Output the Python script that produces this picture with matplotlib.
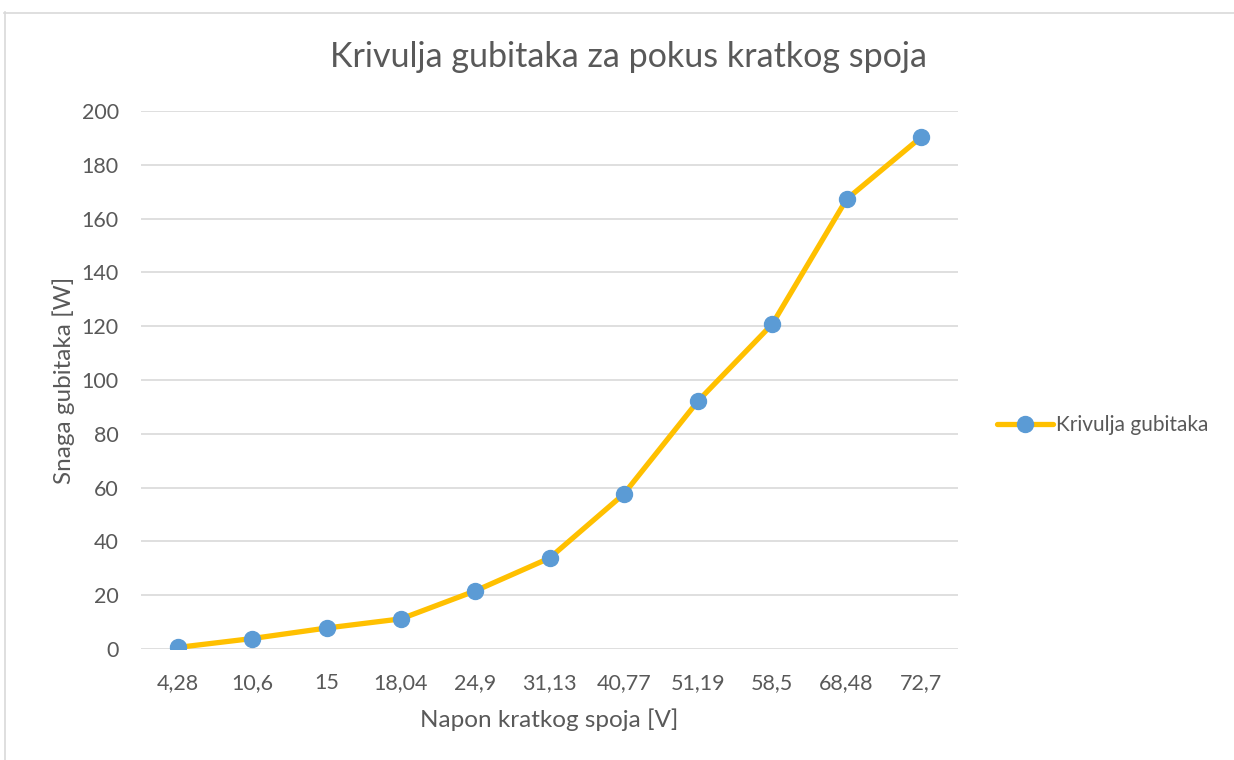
import matplotlib
matplotlib.use("Agg")
import matplotlib.pyplot as plt
from matplotlib.lines import Line2D

categories = ["4,28", "10,6", "15", "18,04", "24,9", "31,13", "40,77", "51,19", "58,5", "68,48", "72,7"]
losses = [0.6, 3.9, 7.8, 11.2, 21.6, 33.8, 57.6, 92.2, 120.8, 167.2, 190.2]
yticks = [0, 20, 40, 60, 80, 100, 120, 140, 160, 180, 200]

plt.rcParams['font.family'] = ['Lato', 'DejaVu Sans']
text_color = '#595959'
W, H = 1234, 760
fig = plt.figure(figsize=(W / 100, H / 100), dpi=100)
fig.patch.set_facecolor('white')

ax = fig.add_axes([141 / W, 1 - 649 / H, (958 - 141) / W, (649 - 111) / H])
x = list(range(len(categories)))
ax.plot(x, losses, color='#FFC000', linewidth=3.8, marker='o', markersize=11.5,
        markerfacecolor='#5B9BD5', markeredgecolor='#5B9BD5', label='Krivulja gubitaka',
        solid_capstyle='round', zorder=3)
ax.set_xlim(-0.5, len(categories) - 0.5)
ax.set_ylim(0, 200)
ax.set_yticks(yticks)
ax.set_xticks(x)
ax.set_xticklabels(categories)
ax.yaxis.grid(True, color='#D9D9D9', linewidth=1.2)
ax.set_axisbelow(True)
for s in ax.spines.values():
    s.set_visible(False)
ax.tick_params(axis='both', length=0, labelsize=15.5, colors=text_color)
ax.tick_params(axis='x', pad=17)
ax.tick_params(axis='y', pad=16)

ax.set_xlabel('Napon kratkog spoja [V]', fontsize=17.5, color=text_color, labelpad=11)
ax.set_ylabel('Snaga gubitaka [W]', fontsize=17.5, color=text_color, labelpad=5)
fig.text(628 / W, 1 - 57 / H, 'Krivulja gubitaka za pokus kratkog spoja', fontsize=24.5,
         color=text_color, ha='center', va='center')

leg = ax.legend(loc='center left', bbox_to_anchor=(997 / W, 1 - 425 / H),
                bbox_transform=fig.transFigure, frameon=False, fontsize=15,
                handlelength=2.7, handletextpad=0.15, borderpad=0, borderaxespad=0)
for t in leg.get_texts():
    t.set_color(text_color)

fig.add_artist(Line2D([4.5 / W, 4.5 / W], [0, 1 - 12 / H], transform=fig.transFigure,
                      color='#D9D9D9', linewidth=1.2))
fig.add_artist(Line2D([4 / W, 1], [1 - 12.5 / H, 1 - 12.5 / H], transform=fig.transFigure,
                      color='#D9D9D9', linewidth=1.2))

fig.savefig('out.png', dpi=100)
